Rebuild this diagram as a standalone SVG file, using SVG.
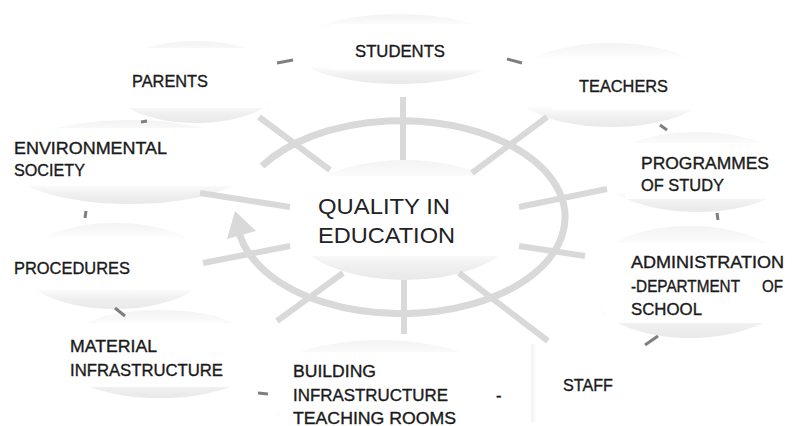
<svg xmlns="http://www.w3.org/2000/svg" width="792" height="426" viewBox="0 0 792 426">
<defs>
<linearGradient id="shade" x1="0" y1="0" x2="0" y2="1">
<stop offset="0" stop-color="#f3f3f3"/>
<stop offset="0.2" stop-color="#ffffff"/>
<stop offset="0.74" stop-color="#ffffff"/>
<stop offset="0.88" stop-color="#f0f0f0"/>
<stop offset="1" stop-color="#e9e9e9"/>
</linearGradient>
<linearGradient id="side" x1="0" y1="0" x2="1" y2="0">
<stop offset="0" stop-color="#f1f1f1"/>
<stop offset="1" stop-color="#ffffff"/>
</linearGradient>
<style>
.disc{fill:url(#shade);}
.face{fill:#ffffff;}
.lbl{font-family:"Liberation Sans",Arial,sans-serif;font-size:16.5px;fill:#1a1a1a;stroke:#1a1a1a;stroke-width:0.35px;}
.ctr{font-family:"Liberation Sans",Arial,sans-serif;font-size:22px;fill:#222222;}
.spoke{stroke:#d9d9d9;stroke-width:6;fill:none;stroke-linecap:butt;}
.ring{stroke:#d9d9d9;stroke-width:7;fill:none;}
.head{fill:#d9d9d9;}
.link{stroke:#7f7f7f;stroke-width:3;fill:none;}
</style>
</defs>
<rect x="0" y="0" width="792" height="426" fill="#ffffff"/>

<g id="node-parents">
<ellipse class="disc" cx="196" cy="82" rx="88" ry="41"/>
<rect class="face" x="112" y="48" width="155" height="60"/>
<text class="lbl" x="132" y="87" textLength="76" lengthAdjust="spacingAndGlyphs">PARENTS</text>
</g>
<g id="node-students">
<ellipse class="disc" cx="399" cy="49" rx="106" ry="35"/>
<rect class="face" x="330" y="24" width="172" height="46"/>
<text class="lbl" x="355" y="57" textLength="90" lengthAdjust="spacingAndGlyphs">STUDENTS</text>
</g>
<g id="node-teachers">
<ellipse class="disc" cx="611" cy="85" rx="101" ry="42"/>
<rect class="face" x="552" y="57" width="158" height="53"/>
<text class="lbl" x="579" y="92" textLength="89" lengthAdjust="spacingAndGlyphs">TEACHERS</text>
</g>
<g id="node-programmes">
<ellipse class="disc" cx="697" cy="172" rx="95" ry="40"/>
<rect class="face" x="625" y="143" width="165" height="56"/>
<text class="lbl" x="641" y="169" textLength="128" lengthAdjust="spacingAndGlyphs">PROGRAMMES</text>
<text class="lbl" x="641" y="191" textLength="83" lengthAdjust="spacingAndGlyphs">OF STUDY</text>
</g>
<g id="node-administration">
<ellipse class="disc" cx="690" cy="282" rx="107" ry="56"/>
<rect class="face" x="605" y="243" width="187" height="80"/>
<text class="lbl" x="631" y="268" textLength="153" lengthAdjust="spacingAndGlyphs">ADMINISTRATION</text>
<text class="lbl" x="631" y="292" textLength="109" lengthAdjust="spacingAndGlyphs">-DEPARTMENT</text>
<text class="lbl" x="762" y="292" textLength="21" lengthAdjust="spacingAndGlyphs">OF</text>
<text class="lbl" x="631" y="314.5" textLength="71" lengthAdjust="spacingAndGlyphs">SCHOOL</text>
</g>
<g id="node-staff">
<rect class="face" x="531" y="341" width="190" height="85"/>
<rect x="531" y="344" width="6" height="78" fill="url(#side)"/>
<text class="lbl" x="563" y="390.5" textLength="50" lengthAdjust="spacingAndGlyphs">STAFF</text>
</g>
<g id="node-building">
<ellipse class="disc" cx="380" cy="388" rx="122" ry="48"/>
<rect class="face" x="280" y="352" width="248" height="74"/>
<text class="lbl" x="293" y="377" textLength="83" lengthAdjust="spacingAndGlyphs">BUILDING</text>
<text class="lbl" x="293" y="400.5" textLength="155" lengthAdjust="spacingAndGlyphs">INFRASTRUCTURE</text>
<text class="lbl" x="496" y="400.5">-</text>
<text class="lbl" x="293" y="424" textLength="163" lengthAdjust="spacingAndGlyphs">TEACHING ROOMS</text>
</g>
<g id="node-material">
<ellipse class="disc" cx="160" cy="354" rx="107" ry="44"/>
<rect class="face" x="60" y="323" width="200" height="64"/>
<text class="lbl" x="70" y="352" textLength="87" lengthAdjust="spacingAndGlyphs">MATERIAL</text>
<text class="lbl" x="70" y="375.5" textLength="153" lengthAdjust="spacingAndGlyphs">INFRASTRUCTURE</text>
</g>
<g id="node-procedures">
<ellipse class="disc" cx="115" cy="266" rx="95" ry="43"/>
<rect class="face" x="8" y="238" width="188" height="52"/>
<text class="lbl" x="14" y="273.5" textLength="116" lengthAdjust="spacingAndGlyphs">PROCEDURES</text>
</g>
<g id="node-environmental">
<ellipse class="disc" cx="130" cy="162" rx="125" ry="42"/>
<rect class="face" x="0" y="128" width="265" height="58"/>
<text class="lbl" x="14" y="154" textLength="153" lengthAdjust="spacingAndGlyphs">ENVIRONMENTAL</text>
<text class="lbl" x="14" y="176" textLength="71" lengthAdjust="spacingAndGlyphs">SOCIETY</text>
</g>
<g id="node-center">
<ellipse class="disc" cx="405" cy="220" rx="118" ry="60"/>
<rect class="face" x="296" y="176" width="218" height="80"/>
<text class="ctr" x="318" y="213.5" textLength="132" lengthAdjust="spacingAndGlyphs">QUALITY IN</text>
<text class="ctr" x="318" y="243" textLength="137" lengthAdjust="spacingAndGlyphs">EDUCATION</text>
</g>

<g id="connectors">
<path class="ring" d="M 262 166 A 164 96.5 0 1 1 239 232"/>
<polygon class="head" points="235,211 256,231 227,239"/>
<line class="spoke" x1="403" y1="97" x2="403" y2="160"/>
<line class="spoke" x1="547" y1="117" x2="472" y2="173"/>
<line class="spoke" x1="519" y1="207" x2="607" y2="189"/>
<line class="spoke" x1="519" y1="246" x2="585" y2="256"/>
<line class="spoke" x1="459" y1="273" x2="548" y2="341"/>
<line class="spoke" x1="404" y1="280" x2="404" y2="334"/>
<line class="spoke" x1="343" y1="273" x2="277" y2="321"/>
<line class="spoke" x1="290" y1="246" x2="203" y2="263"/>
<line class="spoke" x1="290" y1="207" x2="200" y2="193"/>
<line class="spoke" x1="259" y1="117" x2="330" y2="170"/>
<line class="link" x1="277" y1="63" x2="293" y2="60"/>
<line class="link" x1="507" y1="59" x2="522" y2="63"/>
<line class="link" x1="660" y1="125" x2="667" y2="130"/>
<line class="link" x1="717" y1="213" x2="718" y2="220"/>
<line class="link" x1="645" y1="345" x2="658" y2="336"/>
<line class="link" x1="258" y1="393" x2="268" y2="394"/>
<line class="link" x1="115" y1="308" x2="125" y2="316"/>
<line class="link" x1="86" y1="211" x2="85" y2="218"/>
<line class="link" x1="141" y1="122" x2="147" y2="121"/>
</g>
</svg>
